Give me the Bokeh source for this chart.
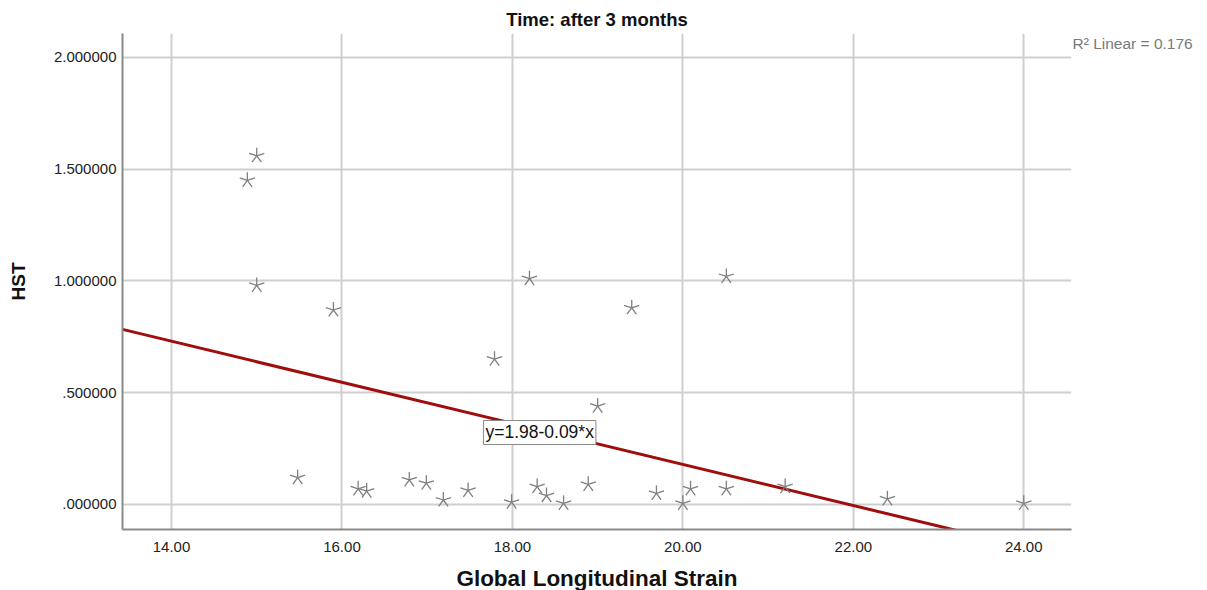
import numpy as np
from bokeh.plotting import figure
from bokeh.models import Label, Range1d, FixedTicker, CustomJSTickFormatter, LinearAxis
from bokeh.embed import file_html
from bokeh.resources import INLINE

# Data
gls = [14.89, 15.0, 15.0, 15.9, 15.48, 16.19, 16.29, 16.79, 16.99, 17.19, 17.48, 17.79,
       17.99, 18.2, 18.29, 18.4, 18.6, 18.89, 19.0, 19.4, 19.69, 20.0, 20.09, 20.51,
       20.51, 21.2, 22.4, 24.0]
hst = [1.45, 1.56, 0.98, 0.87, 0.12, 0.07, 0.06, 0.11, 0.095, 0.02, 0.063, 0.65,
       0.01, 1.01, 0.08, 0.04, 0.005, 0.09, 0.44, 0.88, 0.05, 0.005, 0.07, 1.02,
       0.07, 0.08, 0.025, 0.005]
fit_intercept = 2.017
fit_slope = -0.0919
x_ticks = [14, 16, 18, 20, 22, 24]
y_ticks = [0.0, 0.5, 1.0, 1.5, 2.0]
title_text = "Time: after 3 months"
x_label = "Global Longitudinal Strain"
y_label = "HST"
r2_text = "R² Linear = 0.176"
eq_text = "y=1.98-0.09*x"

FONT = "Liberation Sans"
X0, X1 = 13.425, 24.56

p = figure(frame_width=949, frame_height=496, output_backend="svg", toolbar_location=None,
           x_range=Range1d(X0, X1), y_range=Range1d(-0.112, 2.107),
           min_border_left=122, min_border_right=118, min_border_top=33, min_border_bottom=52)

p.title.text = title_text
p.title.align = "center"
p.title.text_font = FONT
p.title.text_font_size = "18.5px"
p.title.text_font_style = "bold"
p.title.text_color = "#111111"
p.title.standoff = 7
p.outline_line_color = None

# grid
for g in (p.xgrid, p.ygrid):
    g.grid_line_color = "#cfcfcf"
    g.grid_line_width = 2
p.xgrid.ticker = FixedTicker(ticks=x_ticks)
p.ygrid.ticker = FixedTicker(ticks=y_ticks)

# axes
p.xaxis.ticker = FixedTicker(ticks=x_ticks)
p.yaxis.ticker = FixedTicker(ticks=y_ticks)
p.xaxis.formatter = CustomJSTickFormatter(code="return tick.toFixed(2);")
p.yaxis.formatter = CustomJSTickFormatter(
    code="var s = tick.toFixed(6); if (s.startsWith('0')) { s = s.substring(1); } return s;")
for ax in (p.xaxis, p.yaxis):
    ax.axis_line_color = "#8a8a8a"
    ax.axis_line_width = 2
    ax.major_tick_line_color = None
    ax.minor_tick_line_color = None
    ax.major_tick_out = 0
    ax.major_tick_in = 0
    ax.major_label_text_font = FONT
    ax.major_label_text_font_size = "15px"
    ax.major_label_text_color = "#222222"
    ax.axis_label_text_font = FONT
    ax.axis_label_text_font_style = "bold"
    ax.axis_label_text_color = "#111111"
p.xaxis.axis_label = x_label
p.yaxis.axis_label = y_label
p.xaxis.axis_label_text_font_size = "22.5px"
p.yaxis.axis_label_text_font_size = "19px"
p.xaxis.major_label_standoff = 12
p.yaxis.major_label_standoff = 6
p.xaxis.axis_label_standoff = 11
p.yaxis.axis_label_standoff = 22

# R^2 annotation as a right-side axis label
r2_axis = LinearAxis(ticker=FixedTicker(ticks=[2.063]),
                     formatter=CustomJSTickFormatter(code="return %r;" % r2_text))
r2_axis.axis_line_color = None
r2_axis.major_tick_line_color = None
r2_axis.minor_tick_line_color = None
r2_axis.major_tick_out = 0
r2_axis.major_tick_in = 0
r2_axis.major_label_standoff = 1
r2_axis.major_label_text_font = FONT
r2_axis.major_label_text_font_size = "15.5px"
r2_axis.major_label_text_color = "#7a7a7a"
p.add_layout(r2_axis, "right")

# regression line, spanning the x range
lx = [X0, X1]
ly = [fit_intercept + fit_slope * v for v in lx]
p.line(lx, ly, line_color="#a00d0d", line_width=3)

# 5-arm asterisk markers built from rays
angles = [np.pi / 2 + k * 2 * np.pi / 5 for k in range(5)]
rx = [xv for xv in gls for _ in angles]
ry = [yv for yv in hst for _ in angles]
ra = [a for _ in gls for a in angles]
p.ray(x=rx, y=ry, angle=ra, length=8, length_units="screen",
      line_color="#7f7f7f", line_width=1.3)

# equation box
p.add_layout(Label(x=17.66, y=0.322, text=eq_text, text_font=FONT, text_font_size="17.5px",
                   text_color="#111111", text_baseline="middle",
                   background_fill_color="white", border_line_color="#888888",
                   border_line_width=1, padding=2))

open("out.html", "w").write(file_html(p, INLINE))
